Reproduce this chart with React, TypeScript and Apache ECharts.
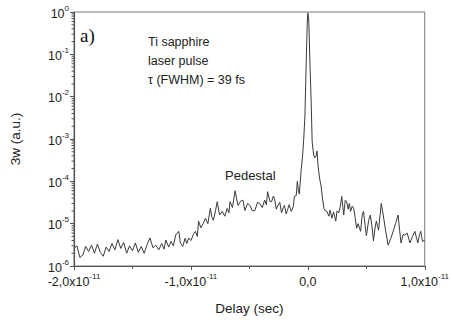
import React, { useEffect, useRef } from "react";
import * as echarts from "echarts";

// Delay in picoseconds (axis shows seconds: 10 ps = 1,0x10^-11 s)
const delayPs: number[] = [
  -20.0, -19.75, -19.5, -19.25, -19.0, -18.75, -18.5, -18.25, -18.0, -17.75,
  -17.5, -17.25, -17.0, -16.75, -16.5, -16.25, -16.0, -15.75, -15.5, -15.25,
  -15.0, -14.75, -14.5, -14.25, -14.0, -13.75, -13.5, -13.25,
  -13.0, -12.75, -12.5, -12.3, -12.14, -11.9, -11.7, -11.5, -11.3, -11.04,
  -10.9, -10.7, -10.5, -10.35, -10.2, -10.0, -9.8, -9.61, -9.45, -9.35,
  -9.15, -8.95, -8.76, -8.55, -8.34, -8.2, -8.08, -7.9, -7.75, -7.55,
  -7.32, -7.1, -6.9, -6.75, -6.65, -6.45, -6.22, -6.1, -5.97, -5.75,
  -5.55, -5.38, -5.15, -4.96, -4.75, -4.53, -4.3, -4.11, -3.9, -3.69,
  -3.55, -3.44, -3.25, -3.1, -2.95, -2.85, -2.7, -2.59, -2.4, -2.25,
  -2.1, -2.0, -1.85, -1.75, -1.6, -1.41, -1.25, -1.15, -0.99, -0.9,
  -0.8, -0.73, -0.56, -0.45, -0.35, -0.25, -0.15, -0.05, 0.0, 0.08,
  0.18, 0.28, 0.37, 0.5, 0.6, 0.7, 0.79, 0.87, 1.0, 1.13,
  1.25, 1.38, 1.5, 1.63, 1.8, 1.9, 2.06, 2.2, 2.39, 2.5,
  2.65, 2.78, 2.9, 3.0, 3.07, 3.2, 3.32, 3.45, 3.55, 3.66,
  3.8, 3.92, 4.05, 4.17, 4.3, 4.51, 4.65, 4.76, 4.9, 5.01,
  5.2, 5.35, 5.5, 5.61, 5.75, 5.86, 6.05, 6.28, 6.45, 6.62,
  6.87, 7.1, 7.3, 7.5, 7.72, 7.85, 7.97, 8.15, 8.31, 8.5,
  8.73, 8.95, 9.16, 9.3, 9.41, 9.55, 9.66, 9.8, 10.0,
];

// 3w signal (a.u.)
const signal: number[] = [
  2.6e-6, 3.0e-6, 1.6e-6, 1.8e-6, 2.9e-6, 2.2e-6, 3.1e-6, 2.0e-6, 3.3e-6, 2.1e-6,
  1.7e-6, 2.8e-6, 2.2e-6, 3.4e-6, 2.4e-6, 4.2e-6, 2.6e-6, 3.6e-6, 2.0e-6, 3.0e-6,
  2.3e-6, 3.5e-6, 2.1e-6, 2.9e-6, 2.0e-6, 3.2e-6, 4.6e-6, 2.7e-6,
  3.1e-6, 2.4e-6, 3.4e-6, 2.5e-6, 4.1e-6, 2.8e-6, 3.8e-6, 3.0e-6, 5.4e-6, 6.6e-6,
  3.5e-6, 2.9e-6, 4.5e-6, 3.4e-6, 4.6e-6, 4.0e-6, 5.5e-6, 6.6e-6, 5.0e-6, 1.15e-5,
  8.0e-6, 1.0e-5, 1.35e-5, 1.0e-5, 2.3e-5, 1.4e-5, 1.2e-5, 2.0e-5, 3.3e-5, 1.6e-5,
  1.95e-5, 1.5e-5, 2.3e-5, 1.8e-5, 3.3e-5, 2.4e-5, 6.0e-5, 4.0e-5, 2.7e-5, 3.4e-5,
  3.6e-5, 2.05e-5, 3.0e-5, 2.7e-5, 2.0e-5, 2.05e-5, 3.2e-5, 3.0e-5, 2.4e-5, 3.6e-5,
  2.8e-5, 5.7e-5, 3.4e-5, 3.3e-5, 4.5e-5, 3.9e-5, 2.2e-5, 2.6e-5, 3.2e-5, 1.8e-5,
  2.4e-5, 2.7e-5, 1.7e-5, 2.05e-5, 2.8e-5, 1.95e-5, 2.5e-5, 4.4e-5, 4.6e-5, 1.0e-4,
  6.0e-5, 5.0e-5, 2.0e-4, 4.0e-4, 1.0e-3, 3.5e-3, 5.0e-2, 0.55, 0.95, 0.65,
  6.0e-2, 8.7e-3, 8.5e-4, 4.2e-4, 3.6e-4, 4.0e-4, 5.2e-4, 2.4e-4, 1.2e-4, 7.9e-5,
  4.0e-5, 2.3e-5, 2.0e-5, 1.95e-5, 1.5e-5, 2.1e-5, 1.35e-5, 1.9e-5, 1.15e-5, 2.0e-5,
  1.8e-5, 2.6e-5, 4.4e-5, 2.4e-5, 1.6e-5, 3.6e-5, 3.3e-5, 2.2e-5, 3.0e-5, 1.95e-5,
  2.6e-5, 2.3e-5, 1.4e-5, 7.8e-6, 1.0e-5, 6.6e-6, 1.6e-5, 1.95e-5, 9.0e-6, 5.2e-6,
  1.2e-5, 1.6e-5, 8.0e-6, 3.9e-6, 8.0e-6, 1.15e-5, 7.0e-6, 3.0e-5, 1.6e-5, 7.8e-6,
  3.1e-6, 4.5e-6, 6.6e-6, 1.0e-5, 1.6e-5, 7.0e-6, 3.5e-6, 5.5e-6, 5.4e-6, 6.0e-6,
  3.5e-6, 5.0e-6, 6.6e-6, 4.5e-6, 3.5e-6, 5.5e-6, 6.6e-6, 3.8e-6, 4.1e-6,
];

const yMinorTicks: number[] = [];
for (let d = -6; d < 0; d++) {
  for (let m = 2; m <= 9; m++) yMinorTicks.push(m * Math.pow(10, d));
}

const annotationLines: string[] = ["Ti sapphire", "laser pulse", "τ (FWHM) = 39 fs"];

const FONT = "'Liberation Sans', Arial, sans-serif";
const X_MIN = -20;

export default function App() {
  const ref = useRef<HTMLDivElement>(null);
  useEffect(() => {
    if (!ref.current) return;
    const chart = echarts.init(ref.current, null, { renderer: "svg" });
    const data = delayPs.map((x, i) => [x, signal[i]]);
    const supRich = {
      b: { fontSize: 12.5, fontFamily: FONT, color: "#222", lineHeight: 16, verticalAlign: "bottom" },
      s: { fontSize: 8, fontFamily: FONT, color: "#222", lineHeight: 16, verticalAlign: "top" },
    };
    chart.setOption({
      animation: false,
      backgroundColor: "#fff",
      grid: {
        left: 72,
        right: 25,
        top: 12,
        bottom: 52,
        show: true,
        borderColor: "#777",
        borderWidth: 1,
        backgroundColor: "transparent",
      },
      xAxis: {
        type: "value",
        min: X_MIN,
        max: 10,
        interval: 10,
        name: "Delay (sec)",
        nameLocation: "middle",
        nameGap: 35,
        nameTextStyle: { fontFamily: FONT, fontSize: 13.5, color: "#222" },
        axisLine: { show: true, onZero: false, lineStyle: { color: "#555", width: 1.2 } },
        axisTick: { show: true, inside: false, length: 4, lineStyle: { color: "#555" } },
        minorTick: { show: true, splitNumber: 2, length: 3, lineStyle: { color: "#555" } },
        splitLine: { show: false },
        axisLabel: {
          margin: 6,
          formatter: (v: number) => {
            if (v === 0) return "{b|0,0}";
            const t = (v / 10).toFixed(1).replace(".", ",");
            return `{b|${t}x10}{s|-11}`;
          },
          rich: supRich,
        },
      },
      yAxis: {
        type: "log",
        logBase: 10,
        min: 1e-6,
        max: 1,
        interval: 1,
        name: "3w (a.u.)",
        nameLocation: "middle",
        nameGap: 52,
        nameTextStyle: { fontFamily: FONT, fontSize: 13.5, color: "#222" },
        axisLine: { show: true, onZero: false, lineStyle: { color: "#555", width: 1.2 } },
        axisTick: { show: true, inside: false, length: 4, lineStyle: { color: "#555" } },
        splitLine: { show: false },
        axisLabel: {
          margin: 5,
          formatter: (v: number) => `{b|10}{s|${Math.round(Math.log10(v))}}`,
          rich: supRich,
        },
      },
      series: [
        {
          type: "line",
          data,
          showSymbol: false,
          symbol: "none",
          lineStyle: { color: "#3a3a3a", width: 1 },
          clip: true,
          z: 3,
        },
        {
          // minor log ticks (2..9 in each decade) on the left axis
          type: "custom",
          data: yMinorTicks.map((v) => [X_MIN, v]),
          clip: false,
          silent: true,
          z: 2,
          renderItem: (params: any, api: any) => {
            const p = api.coord([api.value(0), api.value(1)]);
            return {
              type: "line",
              shape: { x1: p[0] - 2.5, y1: p[1], x2: p[0], y2: p[1] },
              style: { stroke: "#555", lineWidth: 1 },
            };
          },
        },
      ],
      graphic: [
        {
          type: "text",
          left: 80,
          top: 26,
          style: { text: "a)", font: "19px 'Liberation Serif', 'Times New Roman', serif", fill: "#111" },
        },
        ...annotationLines.map((t, i) => ({
          type: "text",
          left: 148,
          top: 35 + i * 19,
          style: { text: t, font: `12.5px ${FONT}`, fill: "#222" },
        })),
        {
          type: "text",
          left: 225,
          top: 169,
          style: { text: "Pedestal", font: `13px ${FONT}`, fill: "#222" },
        },
      ],
    });
    return () => chart.dispose();
  }, []);
  return <div ref={ref} style={{ width: 452, height: 320, position: "absolute", left: 0, top: 0 }} />;
}
